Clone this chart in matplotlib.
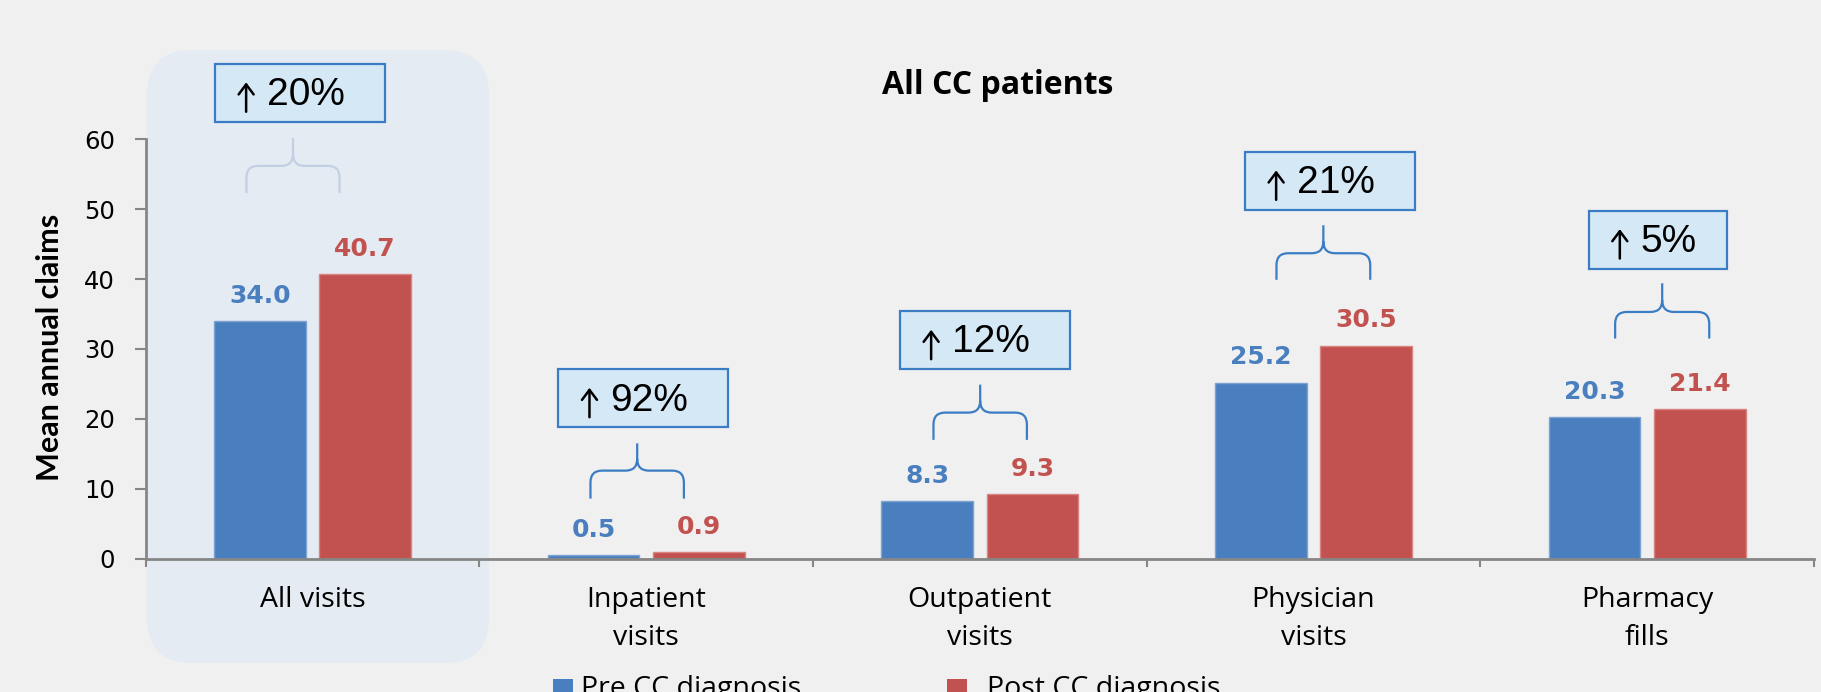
import matplotlib.pyplot as plt
from matplotlib.patches import FancyBboxPatch, Rectangle, PathPatch
from matplotlib.path import Path

categories = ['All visits', 'Inpatient\nvisits', 'Outpatient\nvisits', 'Physician\nvisits', 'Pharmacy\nfills']
pre_cc = [34.0, 0.5, 8.3, 25.2, 20.3]
post_cc = [40.7, 0.9, 9.3, 30.5, 21.4]
pct_change = ['20%', '92%', '12%', '21%', '5%']

# callout layout (data units): box left/bottom/width, brace ends and heights
box_left = [-0.292, 0.737, 1.761, 2.795, 3.825]
box_bottom = [62.5, 18.8, 27.1, 49.9, 41.5]
box_width = [0.508, 0.508, 0.508, 0.508, 0.415]
brace_x0 = [-0.198, 0.833, 1.861, 2.889, 3.904]
brace_x1 = [0.081, 1.113, 2.141, 3.170, 4.186]
brace_bot = [52.3, 8.6, 17.0, 39.9, 31.5]
brace_mid = [56.2, 12.6, 20.9, 43.7, 35.3]
brace_tip = [60.2, 16.5, 24.9, 47.7, 39.4]

BLUE = '#4a7fbf'
RED = '#c2524f'
BOX_EDGE = '#3b7dc4'
BOX_FILL = '#d5e8f5'
AXIS_GREY = '#868686'

fig = plt.figure(figsize=(18.21, 6.92), dpi=100)
fig.patch.set_facecolor('#f0f0f0')

# pixel-coordinate helper axes for the background panel, legend and labels
bg = fig.add_axes([0, 0, 1, 1], zorder=0)
bg.set_xlim(0, 1821)
bg.set_ylim(692, 0)
bg.axis('off')
bg.add_patch(FancyBboxPatch((147, 50), 342, 613, boxstyle='round,pad=0,rounding_size=45',
                            facecolor='#e4ebf3', edgecolor='none'))

ax = fig.add_axes([0.08001, 0.19263, 0.91615, 0.60607], zorder=1)
ax.set_facecolor('none')

x = list(range(len(categories)))
xb = [i - 0.158 for i in x]
xr = [i + 0.158 for i in x]
ax.bar(xb, pre_cc, 0.275, color=BLUE, edgecolor='#7ea3d3', linewidth=1, zorder=2)
ax.bar(xr, post_cc, 0.275, color=RED, edgecolor='#d98481', linewidth=1, zorder=2)

for xi, v in zip(xb, pre_cc):
    ax.annotate(f'{v:.1f}', (xi, v), xytext=(0, 13), textcoords='offset points',
                ha='center', va='baseline', fontsize=18, fontweight='bold',
                color=BLUE, family='DejaVu Sans')
for xi, v in zip(xr, post_cc):
    ax.annotate(f'{v:.1f}', (xi, v), xytext=(0, 13), textcoords='offset points',
                ha='center', va='baseline', fontsize=18, fontweight='bold',
                color=RED, family='DejaVu Sans')

# percent-change callouts with curly braces
for i in range(len(categories)):
    bl, bb = box_left[i], box_bottom[i]
    ax.add_patch(Rectangle((bl, bb), box_width[i], 8.3,
                           facecolor=BOX_FILL, edgecolor=BOX_EDGE, linewidth=1.6,
                           clip_on=False, zorder=3))
    # thin up arrow
    ax.annotate('', xy=(bl + 0.093, bb + 5.65), xytext=(bl + 0.093, bb + 1.44),
                arrowprops=dict(arrowstyle='->,head_length=0.36,head_width=0.27',
                                mutation_scale=20, lw=1.8, color='black',
                                shrinkA=0, shrinkB=0),
                annotation_clip=False, zorder=4)
    ax.text(bl + 0.155, bb + 2.4, pct_change[i], ha='left', va='baseline',
            fontsize=28, family='Liberation Sans', color='black',
            clip_on=False, zorder=4)

    x0, x1, yb, yh, yt = brace_x0[i], brace_x1[i], brace_bot[i], brace_mid[i], brace_tip[i]
    xc = (x0 + x1) / 2
    rx, ry = 0.035, 1.7
    verts = [(x0, yb), (x0, yh - ry), (x0, yh), (x0 + rx, yh), (xc - rx, yh), (xc, yh),
             (xc, yh + ry), (xc, yt),
             (xc, yh + ry), (xc, yh), (xc + rx, yh), (x1 - rx, yh), (x1, yh), (x1, yh - ry), (x1, yb)]
    codes = [Path.MOVETO, Path.LINETO, Path.CURVE3, Path.CURVE3, Path.LINETO, Path.CURVE3,
             Path.CURVE3, Path.LINETO,
             Path.MOVETO, Path.CURVE3, Path.CURVE3, Path.LINETO, Path.CURVE3, Path.CURVE3, Path.LINETO]
    col = '#c3d0e3' if i == 0 else BOX_EDGE
    ax.add_patch(PathPatch(Path(verts, codes), facecolor='none', edgecolor=col,
                           linewidth=1.6, clip_on=False, zorder=3))

ax.set_xlim(-0.5, 4.5)
ax.set_ylim(0, 60)
ax.set_yticks(range(0, 61, 10))
ax.set_xticks([i - 0.5 for i in range(6)])
ax.set_xticklabels([])
ax.set_xticks(x, categories, minor=True, fontsize=20.5, family='Open Sans', linespacing=1.45)

for s in ['top', 'right']:
    ax.spines[s].set_visible(False)
for s in ['left', 'bottom']:
    ax.spines[s].set_color(AXIS_GREY)
    ax.spines[s].set_linewidth(2)

ax.tick_params(axis='y', length=8, width=1.5, color=AXIS_GREY, labelsize=17.5, pad=14,
               labelcolor='black')
ax.tick_params(axis='x', which='major', length=6, width=1.5, color=AXIS_GREY)
ax.tick_params(axis='x', which='minor', length=0, pad=20, labelcolor='black')
for lab in ax.get_yticklabels():
    lab.set_family('DejaVu Sans')

fig.text(998 / 1821, 1 - 94 / 692, 'All CC patients', ha='center', va='baseline',
         fontsize=23, fontweight='bold', family='Open Sans')
bg.text(50, 347, 'Mean annual claims', rotation=90, ha='center', va='center',
        fontsize=22, fontweight='bold', family=['Liberation Sans Narrow', 'Lato'])

# legend, partly cut off at the bottom edge as in the source
bg.add_patch(Rectangle((553, 679), 20, 20, facecolor=BLUE, edgecolor='none'))
bg.text(581, 696, 'Pre CC diagnosis', va='baseline', fontsize=20.5, family='Open Sans')
bg.add_patch(Rectangle((947, 679), 20, 20, facecolor=RED, edgecolor='none'))
bg.text(987, 696, 'Post CC diagnosis', va='baseline', fontsize=20.5, family='Open Sans')

fig.savefig('out.png', dpi=100, facecolor=fig.get_facecolor())
